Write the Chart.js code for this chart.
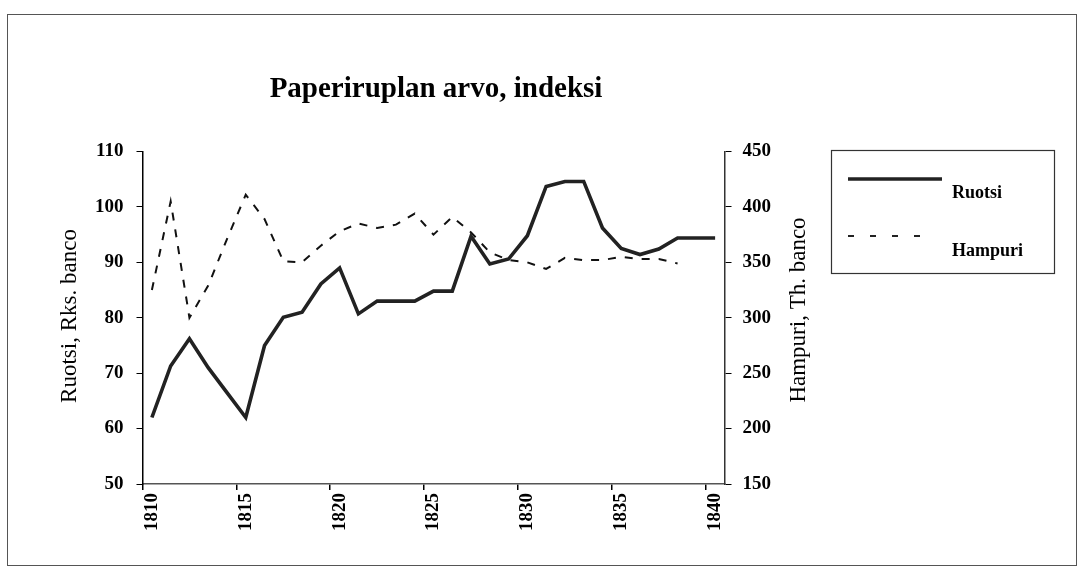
<!DOCTYPE html>
<html>
<head>
<meta charset="utf-8">
<script src="https://cdn.jsdelivr.net/npm/chart.js@4/dist/chart.umd.min.js"></script>
<style>
  html, body { margin: 0; padding: 0; background: #fff; }
  #wrap { width: 1081px; height: 573px; }
</style>
</head>
<body>
<div id="wrap"><canvas id="chart" width="1081" height="573"></canvas></div>
<script>
const years = ['1810', '1811', '1812', '1813', '1814', '1815', '1816', '1817', '1818', '1819',
               '1820', '1821', '1822', '1823', '1824', '1825', '1826', '1827', '1828', '1829',
               '1830', '1831', '1832', '1833', '1834', '1835', '1836', '1837', '1838', '1839', '1840'];

// Ruotsi, Rks. banco (left axis)
const ruotsi = [62, 71.3, 76.2, 71, 66.5, 62, 75, 80.1, 81, 86.1,
                89, 80.7, 83, 83, 83, 84.8, 84.8, 94.7, 89.7, 90.6,
                94.8, 103.7, 104.6, 104.6, 96.2, 92.5, 91.4, 92.4, 94.4, 94.4, 94.4];

// Hampuri, Th. banco (right axis)
const hampuri = [325, 405, 300, 329, 371, 411, 389, 351, 350, 365,
                 378, 385, 381, 384, 394, 375, 391, 377, 359, 352,
                 350, 344, 354, 352, 352, 355, 353, 353, 349, null, null];

const titleText = 'Paperiruplan arvo, indeksi';
const leftTitle = 'Ruotsi, Rks. banco';
const rightTitle = 'Hampuri, Th. banco';

const serif = '"Liberation Serif", "Times New Roman", serif';
const tickFont = { family: serif, size: 19, weight: 'bold' };

const decor = {
  id: 'decor',
  beforeDraw(chart) {
    const c = chart.ctx;
    c.save();
    c.fillStyle = '#fff';
    c.fillRect(0, 0, chart.width, chart.height);
    c.restore();
  },
  afterDraw(chart) {
    const c = chart.ctx;
    c.save();
    // outer frame
    c.strokeStyle = '#555';
    c.lineWidth = 1;
    c.strokeRect(7.5, 14.5, 1069, 551);

    c.fillStyle = '#000';
    c.textAlign = 'center';
    c.textBaseline = 'alphabetic';
    c.font = 'bold 29px ' + serif;
    c.fillText(titleText, 436, 97);

    // axis titles, both read bottom to top
    c.font = '23px ' + serif;
    c.textBaseline = 'middle';
    c.save();
    c.translate(70, 316);
    c.rotate(-Math.PI / 2);
    c.fillText(leftTitle, 0, 0);
    c.restore();
    c.save();
    c.translate(799, 310);
    c.rotate(-Math.PI / 2);
    c.fillText(rightTitle, 0, 0);
    c.restore();

    // legend box
    c.strokeStyle = '#333';
    c.lineWidth = 1.2;
    c.strokeRect(831.5, 150.5, 223, 123);
    c.strokeStyle = '#222';
    c.lineWidth = 3.5;
    c.beginPath();
    c.moveTo(848, 179);
    c.lineTo(942, 179);
    c.stroke();
    c.lineWidth = 2;
    c.setLineDash([6, 16]);
    c.beginPath();
    c.moveTo(848, 236);
    c.lineTo(928, 236);
    c.stroke();
    c.setLineDash([]);
    c.textAlign = 'left';
    c.font = 'bold 18px ' + serif;
    c.fillText(chart.data.datasets[0].label, 952, 193);
    c.fillText(chart.data.datasets[1].label, 952, 251);
    c.restore();
  }
};

const ctx = document.getElementById('chart').getContext('2d');
const chart = new Chart(ctx, {
  type: 'line',
  data: {
    labels: years,
    datasets: [{
      label: 'Ruotsi',
      data: ruotsi,
      yAxisID: 'y',
      borderColor: '#222',
      borderWidth: 3.6,
      pointRadius: 0,
      tension: 0,
      fill: false
    }, {
      label: 'Hampuri',
      data: hampuri,
      yAxisID: 'y1',
      borderColor: '#111',
      borderWidth: 2,
      borderDash: [8, 9],
      pointRadius: 0,
      tension: 0,
      fill: false,
      spanGaps: false
    }]
  },
  options: {
    responsive: false,
    animation: false,
    layout: { padding: { top: 151.5, left: 0, right: 0, bottom: 0 } },
    plugins: {
      legend: { display: false },
      title: { display: false },
      tooltip: { enabled: false }
    },
    scales: {
      x: {
        type: 'category',
        offset: true,
        afterFit: s => { s.height = 89; },
        grid: {
          offset: true,
          drawOnChartArea: false,
          tickLength: 6,
          lineWidth: 1.5,
          color: c => (c.index % 5 === 0 ? '#000' : 'rgba(0,0,0,0)')
        },
        border: { display: true, color: '#555', width: 1.5 },
        ticks: {
          autoSkip: false,
          minRotation: 90,
          maxRotation: 90,
          padding: 3,
          color: '#000',
          font: tickFont,
          callback: function (v, i) { return i % 5 === 0 ? this.getLabelForValue(v) : ''; }
        }
      },
      y: {
        position: 'left',
        min: 50,
        max: 110,
        afterFit: s => { s.width = 142.5; },
        grid: { drawOnChartArea: false, tickLength: 6, color: '#000', lineWidth: 1 },
        border: { display: true, color: '#000', width: 1.5 },
        ticks: { stepSize: 10, padding: 13, color: '#000', font: tickFont }
      },
      y1: {
        position: 'right',
        min: 150,
        max: 450,
        afterFit: s => { s.width = 356.5; },
        grid: { drawOnChartArea: false, tickLength: 7, color: '#000', lineWidth: 1 },
        border: { display: true, color: '#333', width: 1.5 },
        ticks: { stepSize: 50, padding: 11, color: '#000', font: tickFont }
      }
    }
  },
  plugins: [decor]
});
</script>
</body>
</html>
